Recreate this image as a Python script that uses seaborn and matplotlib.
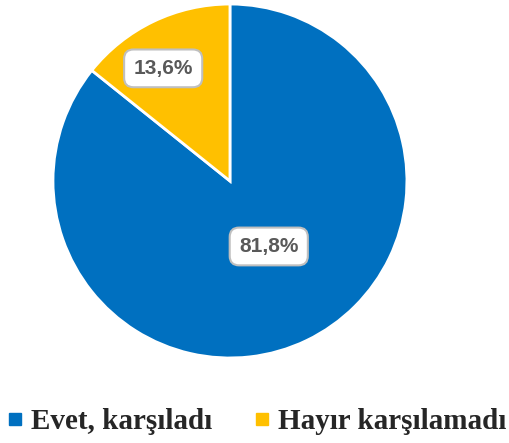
import numpy as np
import matplotlib
matplotlib.use("Agg")
import matplotlib.pyplot as plt
from matplotlib.lines import Line2D
import seaborn as sns

# data
categories = ["Evet, karşıladı", "Hayır karşılamadı"]
values = [81.8, 13.6]
pct_labels = ["81,8%", "13,6%"]
colors = ["#0070C0", "#FFC000"]

sns.set_theme(style="white")
plt.rcParams['font.family'] = ['Liberation Sans', 'DejaVu Sans']

fig = plt.figure(figsize=(5.10, 4.43), dpi=100)
ax = fig.add_axes([0.1039, 0.1919, 0.694, 0.799])

wedges, _ = ax.pie(values, colors=colors, startangle=90, counterclock=False,
                   wedgeprops=dict(edgecolor="white", linewidth=2))
ax.set_xlim(-1, 1)
ax.set_ylim(-1, 1)
ax.set_aspect("equal")

# percent labels in rounded boxes
label_r = [0.43, 0.74]
for w, txt, r in zip(wedges, pct_labels, label_r):
    ang = np.deg2rad((w.theta1 + w.theta2) / 2 + 5)
    ax.text(r * np.cos(ang), r * np.sin(ang), txt, ha="center", va="center",
            fontsize=15, fontweight="bold", color="#595959",
            bbox=dict(boxstyle="round,pad=0.45,rounding_size=0.45", fc="white",
                      ec="#BFBFBF", lw=1.5))

# legend
handles = [Line2D([0], [0], marker="s", linestyle="", markersize=8,
                  markerfacecolor=c, markeredgecolor=c) for c in colors]
fig.legend(handles, categories, loc="center", bbox_to_anchor=(0.5, 0.048),
           ncol=2, frameon=False, handletextpad=0.15, columnspacing=1.3,
           handlelength=0.8,
           prop=dict(family="Liberation Serif", weight="bold", size=21))

plt.savefig("out.png", dpi=100)
